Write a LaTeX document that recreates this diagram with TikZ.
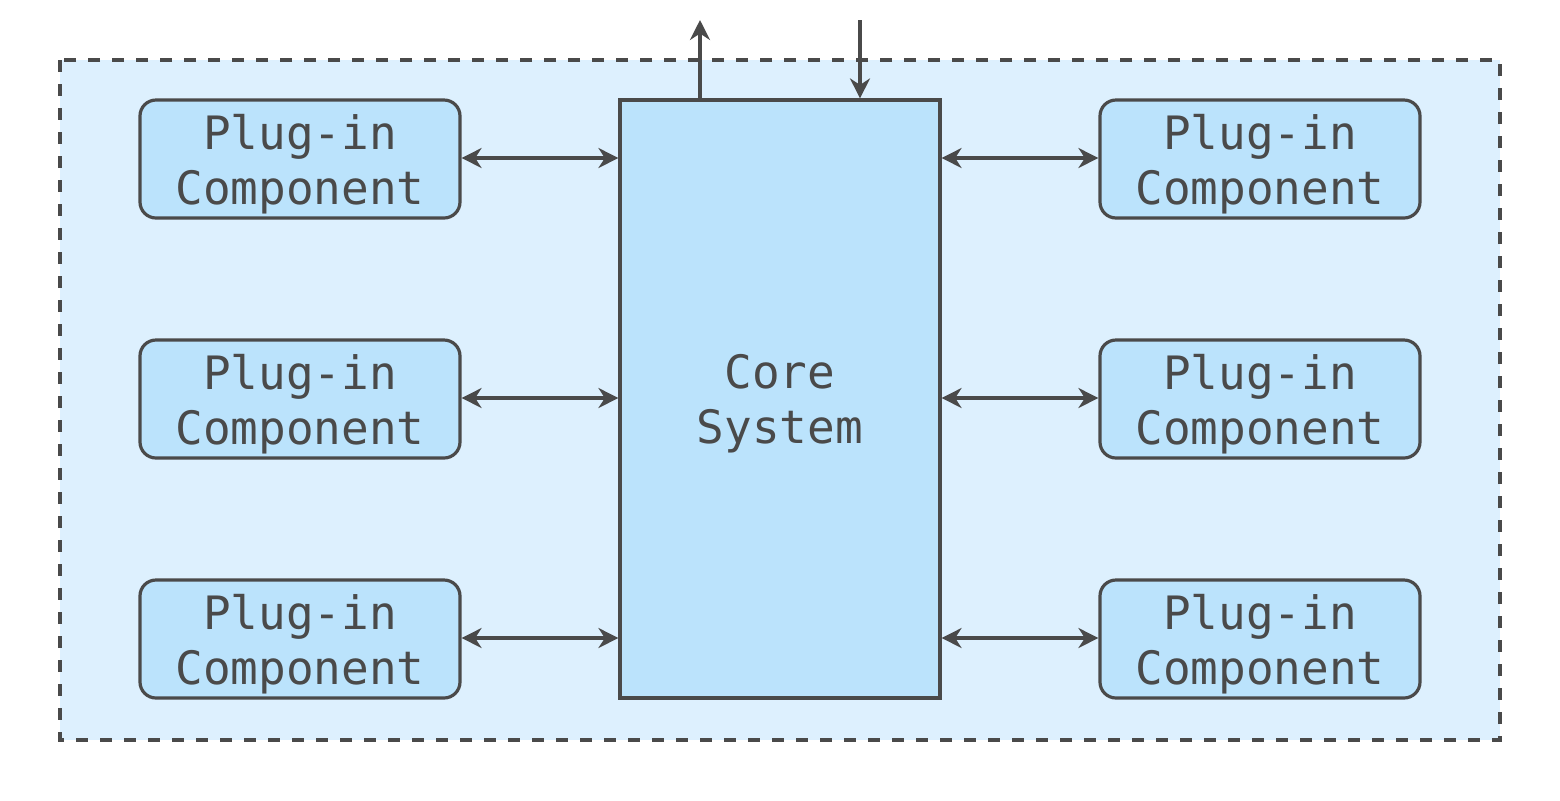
\documentclass[tikz,border=0pt]{standalone}
\usepackage{fontspec}
\setmonofont{DejaVu Sans Mono}
\usetikzlibrary{arrows.meta}
\definecolor{inkgray}{HTML}{4A4A4A}
\definecolor{areablue}{HTML}{DDF0FE}
\definecolor{boxblue}{HTML}{BBE3FC}
\newcommand{\boxtext}[2]{\raisebox{-2.5pt}[\height][\depth]{#1}\\\raisebox{-2.5pt}[\height][\depth]{#2}}
\tikzset{
  plugin/.style={draw=inkgray, line width=1.6pt, fill=boxblue, rounded corners=8pt,
    minimum width=160pt, minimum height=59pt, align=center, text=inkgray,
    font=\ttfamily\fontsize{23}{27.5}\selectfont},
  corebox/.style={draw=inkgray, line width=1.6pt, fill=boxblue,
    minimum width=160pt, minimum height=299pt, align=center, text=inkgray,
    font=\ttfamily\fontsize{23}{27.5}\selectfont},
  link/.style={draw=inkgray, line width=1.6pt}
}
\begin{document}
\begin{tikzpicture}[x=0.5pt, y=-0.5pt, >={Stealth[length=10pt,width=10pt]}]
                \useasboundingbox (0,0) rectangle (1560,800);
                \draw[draw=inkgray, fill=areablue, line width=1.6pt, dash pattern=on 6pt off 6pt] (60,60) rectangle (1500,740);

                \node[corebox] (core) at (780,399) {\boxtext{Core}{System}};
                \node[plugin] (left1) at (300,159) {\boxtext{Plug-in}{Component}}; \node[plugin] (right1) at (1260,159) {\boxtext{Plug-in}{Component}};
                \node[plugin] (left2) at (300,399) {\boxtext{Plug-in}{Component}}; \node[plugin] (right2) at (1260,399) {\boxtext{Plug-in}{Component}};
                \node[plugin] (left3) at (300,639) {\boxtext{Plug-in}{Component}}; \node[plugin] (right3) at (1260,639) {\boxtext{Plug-in}{Component}};
                \coordinate (out) at (700,20); \coordinate (in) at (860,20);
                \coordinate (row1) at (0,158); \coordinate (row2) at (0,398); \coordinate (row3) at (0,638);

                \draw[link,<->] (left1.east |- row1) to (core.west |- row1); \draw[link,<->] (core.east |- row1) to (right1.west |- row1);
                \draw[link,<->] (left2.east |- row2) to (core.west |- row2); \draw[link,<->] (core.east |- row2) to (right2.west |- row2);
                \draw[link,<->] (left3.east |- row3) to (core.west |- row3); \draw[link,<->] (core.east |- row3) to (right3.west |- row3);
                \draw[link,->] (core.north -| out) to (out); \draw[link,->] (in) to (in |- core.north);
            \end{tikzpicture}
\end{document}
